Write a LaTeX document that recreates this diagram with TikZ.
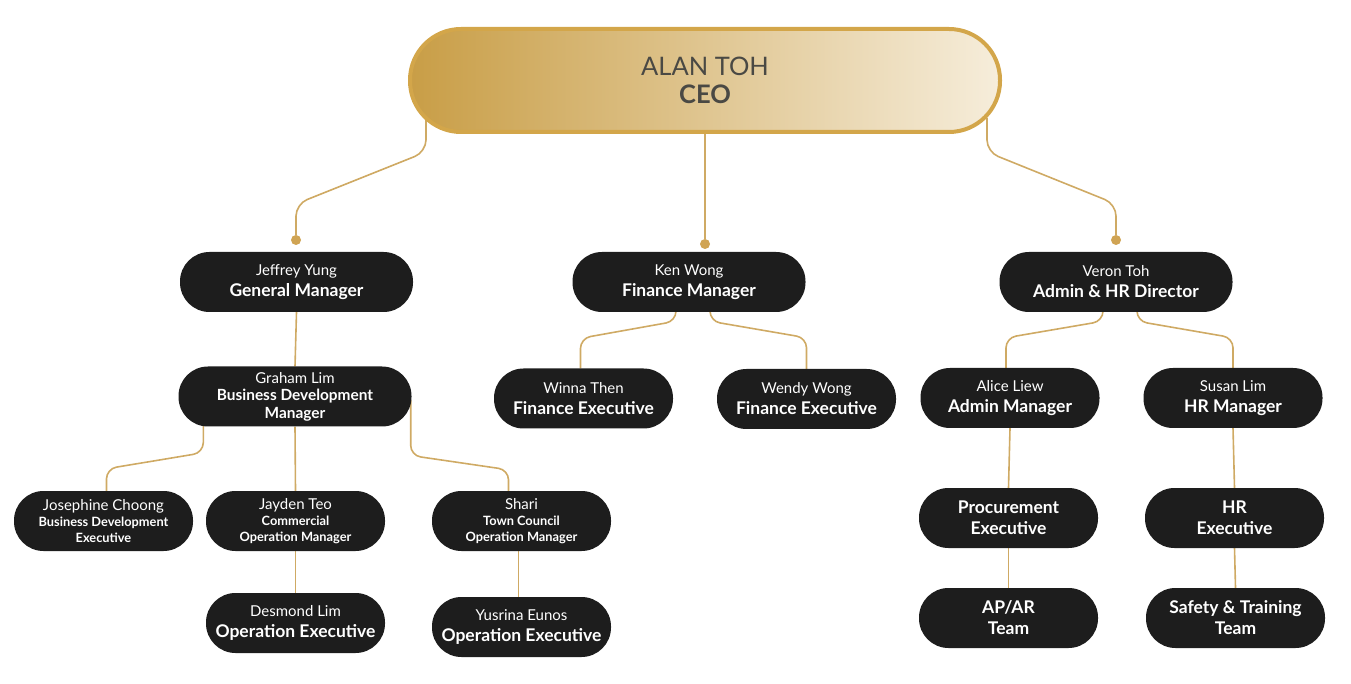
\documentclass[tikz,border=0pt]{standalone}
\usepackage{fontspec}
\setmainfont{Lato}
\usepackage{tikz}
\usetikzlibrary{calc, positioning, backgrounds}

\definecolor{boxfill}{HTML}{1D1D1D}
\definecolor{linegold}{HTML}{CFAA64}
\definecolor{dotgold}{HTML}{D0A454}
\definecolor{ceoedge}{HTML}{D3A64A}
\definecolor{ceotext}{HTML}{4A4944}

\newcommand{\roletitle}[1]{{\bfseries\fontsize{17.5}{20}\selectfont #1}}
\newcommand{\smallrole}[1]{{\bfseries\fontsize{12.8}{16}\selectfont #1}}

\tikzset{
  box/.style={rectangle, rounded corners=29.5pt, fill=boxfill, text=white,
    minimum width=179pt, minimum height=60pt, align=center, inner sep=0pt,
    font=\fontsize{15}{21}\selectfont},
  wide/.style={box, minimum width=233pt},
  threeline/.style={font=\fontsize{15}{16}\selectfont},
  link/.style={draw=linegold, line width=1.6pt, rounded corners=10pt},
  golddot/.style={circle, fill=dotgold, inner sep=0pt, minimum size=10pt},
}

\begin{document}
\begin{tikzpicture}[x=1pt, y=1pt]
  \useasboundingbox (0,0) rectangle (1351,683);
  % top
  \node (ceo) at (705,602.5) [rectangle, rounded corners=51pt, minimum width=590pt,
    minimum height=103pt, left color=ceoedge!95!black, right color=ceoedge!20!white,
    draw=ceoedge, line width=4pt, text=ceotext, align=center,
    font=\fontsize{25.5}{28}\selectfont] {ALAN TOH\\{\bfseries CEO}};
  \node (dotl) at (296,443) [golddot] {};
  \node (dotm) at (705,439) [golddot] {};
  \node (dotr) at (1116,443) [golddot] {};
  % second row
  \node (jeffrey) at (296.5,401) [wide] {Jeffrey Yung\\\roletitle{General Manager}};
  \node (ken) at (689,401) [wide] {Ken Wong\\\roletitle{Finance Manager}};
  \node (veron) at (1116,401) [wide] {Veron Toh\\\roletitle{Admin \& HR Director}};
  % third row
  \node (graham) at (295,286.5) [wide, font=\fontsize{15}{17.5}\selectfont]
    {Graham Lim\\{\bfseries\fontsize{15.4}{17.5}\selectfont Business Development}\\{\bfseries\fontsize{15.4}{17.5}\selectfont Manager}};
  \node (winna) at (583.5,284.5) [box] {Winna Then\\\roletitle{Finance Executive}};
  \node (wendy) at (806.5,284) [box] {Wendy Wong\\\roletitle{Finance Executive}};
  \node (alice) at (1010,285) [box] {Alice Liew\\\roletitle{Admin Manager}};
  \node (susan) at (1233,285) [box] {Susan Lim\\\roletitle{HR Manager}};
  % fourth row
  \node (josephine) at (103.5,162) [box, threeline]
    {Josephine Choong\\\smallrole{Business Development}\\\smallrole{Executive}};
  \node (jayden) at (295.5,162) [box, threeline]
    {Jayden Teo\\\smallrole{Commercial}\\\smallrole{Operation Manager}};
  \node (shari) at (521.5,162) [box, threeline]
    {Shari\\\smallrole{Town Council}\\\smallrole{Operation Manager}};
  \node (procurement) at (1008.5,165) [box, font=\fontsize{17.5}{21}\selectfont\bfseries]
    {Procurement\\Executive};
  \node (hrexec) at (1234.5,165) [box, font=\fontsize{17.5}{21}\selectfont\bfseries]
    {HR\\Executive};
  % bottom row
  \node (desmond) at (295.5,60) [box] {Desmond Lim\\\roletitle{Operation Executive}};
  \node (yusrina) at (521.5,56) [box] {Yusrina Eunos\\\roletitle{Operation Executive}};
  \node (apar) at (1008.5,65) [box, font=\fontsize{17.5}{21}\selectfont\bfseries]
    {AP/AR\\Team};
  \node (safety) at (1235.5,65) [box, font=\fontsize{17.5}{21}\selectfont\bfseries]
    {Safety \& Training\\Team};

  % connectors
  \begin{scope}[on background layer]
    \draw [link, rounded corners=12pt] ($(ceo.south west)+(18,16)$) -- ++(0,-34)
      -- ($(dotl)+(0,36)$) -- (dotl);
    \draw [link] (ceo.south) -- (dotm);
    \draw [link, rounded corners=12pt] ($(ceo.south east)+(-15,16)$) -- ++(0,-34)
      -- ($(dotr)+(0,36)$) -- (dotr);
    \draw [link] (jeffrey.south) -- (graham.north);
    \draw [link] ($(ken.south)+(-13,4)$) -- ++(0,-13)
      -- ($(winna.north)+(-3,30)$) -- ($(winna.north)+(-3,0)$);
    \draw [link] ($(ken.south)+(21,4)$) -- ++(0,-13)
      -- ($(wendy.north)+(0,31)$) -- (wendy.north);
    \draw [link] ($(veron.south)+(-13,4)$) -- ++(0,-13)
      -- ($(alice.north)+(-4,30)$) -- ($(alice.north)+(-4,0)$);
    \draw [link] ($(veron.south)+(21,4)$) -- ++(0,-13)
      -- ($(susan.north)+(0,30)$) -- (susan.north);
    \draw [link] ($(graham.south west)+(25,6)$) -- ++(0,-32)
      -- ($(josephine.north)+(3,22)$) -- ($(josephine.north)+(3,0)$);
    \draw [link] (graham.south) -- (jayden.north);
    \draw [link] ($(graham.east)+(-1,-4)$) -- ++(0,-55)
      -- ($(shari.north)+(-13,21)$) -- ($(shari.north)+(-13,0)$);
    \draw [link] (jayden.south) -- (desmond.north);
    \draw [link] ($(shari.south)+(-3,0)$) -- ($(yusrina.north)+(-3,0)$);
    \draw [link] (alice.south) -- (procurement.north);
    \draw [link] (procurement.south) -- (apar.north);
    \draw [link] (susan.south) -- (hrexec.north);
    \draw [link] (hrexec.south) -- (safety.north);
  \end{scope}
\end{tikzpicture}
\end{document}
